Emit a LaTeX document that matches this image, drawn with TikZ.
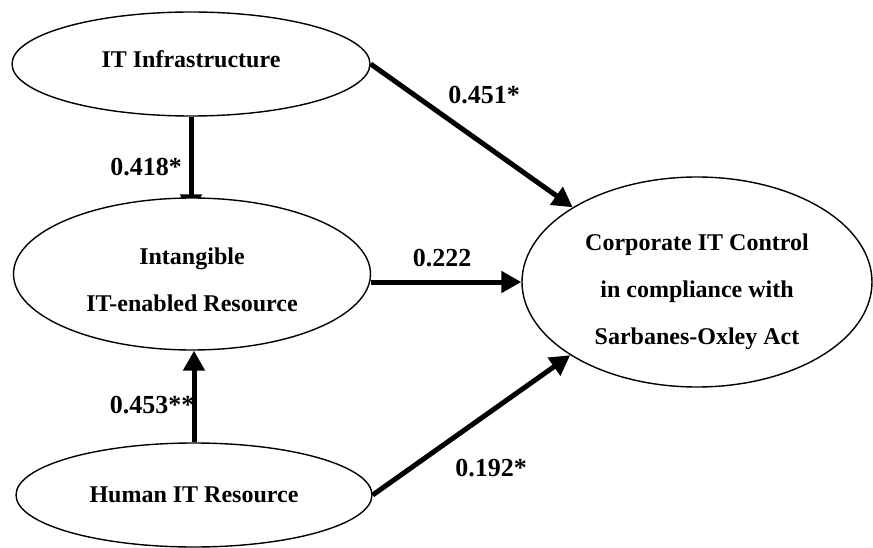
\documentclass[tikz,border=0pt]{standalone}
\usepackage{fontspec}
\setmainfont{Liberation Serif}
\usetikzlibrary{arrows.meta,shapes.geometric,backgrounds}
% struts that nudge multi-line text inside the ellipses
\newcommand{\liftup}[1]{\rule[-#1]{0pt}{0pt}}
\newcommand{\pushdown}[1]{\rule{0pt}{#1}}
\begin{document}
\begin{tikzpicture}[x=1pt,y=-1pt,
  construct/.style={draw, ellipse, line width=1.4pt, fill=white, inner sep=0pt,
    align=center, font=\fontsize{24}{47}\selectfont\bfseries},
  effect/.style={line width=5pt, -{Triangle[length=20pt,width=21pt]}},
  coef/.style={font=\fontsize{26}{30}\selectfont\bfseries, inner sep=0pt}]
\useasboundingbox (0,0) rectangle (873,548);

% latent constructs
\node[construct, minimum width=358pt, minimum height=104pt] (infra) at (191,64) {IT Infrastructure\liftup{10pt}};
\node[construct, minimum width=357pt, minimum height=152pt] (intang) at (192,274) {\pushdown{28pt}Intangible\\IT-enabled Resource};
\node[construct, minimum width=356pt, minimum height=104pt] (human) at (194,495) {Human IT Resource};
\node[construct, minimum width=350pt, minimum height=210pt] (corp) at (697,282) {\pushdown{37pt}Corporate IT Control\\in compliance with\\Sarbanes-Oxley Act};

% path coefficients
\node[coef] (c1) at (146,167) {0.418*};
\node[coef] (c2) at (484,95) {0.451*};
\node[coef] (c3) at (442,258) {0.222};
\node[coef] (c4) at (152,405) {0.453**};
\node[coef] (c5) at (491,468) {0.192*};

% structural paths
\draw[effect] (infra.east) -- (corp.149);
\draw[effect] (intang.east |- corp.west) -- (corp.west);
\draw[effect] (human.east) -- (corp.210);
\draw[effect] (human.north) -- (human.north |- intang.south);
\begin{pgfonlayer}{background}
  \draw[effect, shorten >=-17pt] (infra.south) -- (infra.south |- intang.north);
\end{pgfonlayer}
\end{tikzpicture}
\end{document}
